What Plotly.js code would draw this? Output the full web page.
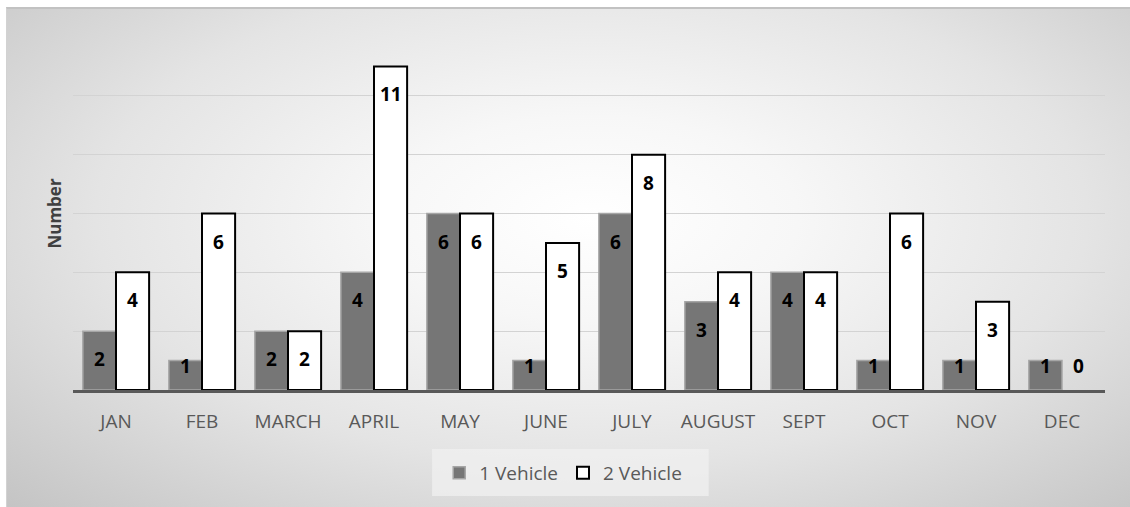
<!DOCTYPE html>
<html>
<head>
<meta charset="utf-8">
<script src="https://cdn.plot.ly/plotly-3.0.1.min.js"></script>
<style>
  html, body { margin:0; padding:0; background:#ffffff; width:1130px; height:507px; overflow:hidden; }
  #bg { position:absolute; left:6px; top:7px; width:1124px; height:498px;
        border-top:2px solid #c2c2c2; border-left:1px solid #d2d2d2;
        background: radial-gradient(ellipse farthest-corner at 52% 42%, #ffffff 0%, #f7f7f7 25%, #e4e4e4 60%, #c4c4c4 100%); }
  #chart { position:absolute; left:0; top:0; width:1130px; height:507px; }
</style>
</head>
<body>
<div id="bg"></div>
<div id="chart"></div>
<script>
const months = ["JAN","FEB","MARCH","APRIL","MAY","JUNE","JULY","AUGUST","SEPT","OCT","NOV","DEC"];
const oneVehicle = [2,1,2,4,6,1,6,3,4,1,1,1];
const twoVehicle = [4,6,2,11,6,5,8,4,4,6,3,0];
const seriesNames = ["1 Vehicle","2 Vehicle"];

const W = 1130, H = 507;
const margin = {l:73, r:25, t:37, b:117, pad:0};
const yMax = 12;
const bargap = 0.23;

const plotW = W - margin.l - margin.r;
const plotH = H - margin.t - margin.b;
const catW = plotW / months.length;
const barW = catW * (1 - bargap) / 2;
const pxPerUnit = plotH / yMax;

const traces = [
  {type:'bar', name:seriesNames[0], x:months, y:oneVehicle,
   marker:{color:'#767676', line:{color:'#a6a6a6', width:oneVehicle.map(v => v === 0 ? 0 : 1.5)}}, hoverinfo:'skip'},
  {type:'bar', name:seriesNames[1], x:months, y:twoVehicle,
   marker:{color:'#ffffff', line:{color:'#000000', width:twoVehicle.map(v => v === 0 ? 0 : 2)}}, hoverinfo:'skip'}
];

const labelFont = {family:'"Open Sans", sans-serif', size:19, color:'#000000'};
const annotations = [];
[oneVehicle, twoVehicle].forEach((vals, si) => {
  const xs = (si === 0 ? -1 : 1) * barW / 2;
  vals.forEach((v, i) => {
    const small = v * pxPerUnit < 52;
    annotations.push({
      x: months[i], y: small ? 0 : v, xref:'x', yref:'y',
      xshift: xs, yshift: small ? 24 : -28,
      text: '<b>' + v + '</b>', showarrow:false,
      font: labelFont, xanchor:'center', yanchor:'middle'
    });
  });
});

const layout = {
  width: W, height: H,
  margin: margin,
  paper_bgcolor: 'rgba(0,0,0,0)',
  plot_bgcolor: 'rgba(0,0,0,0)',
  barmode: 'group',
  bargap: bargap,
  bargroupgap: 0,
  showlegend: true,
  legend: {orientation:'h', x:0.475, xanchor:'center', y:-0.235, yanchor:'middle',
           font:{family:'"Open Sans", sans-serif', size:19, color:'#595959'},
           bgcolor:'rgba(0,0,0,0)', itemwidth:30},
  shapes: [{type:'rect', xref:'paper', yref:'paper', layer:'below',
            x0:0.348, x1:0.616, y0:-0.167, y1:-0.300,
            fillcolor:'rgba(240,240,240,0.75)', line:{width:0}}],
  xaxis: {
    type:'category', categoryarray: months,
    showline:true, linecolor:'#595959', linewidth:3,
    ticks:'', showgrid:false, zeroline:false,
    tickfont:{family:'"Open Sans", sans-serif', size:19, color:'#595959'},
    ticklabelstandoff: 12,
    fixedrange:true
  },
  yaxis: {
    range:[0, yMax], dtick:2, showticklabels:false, ticks:'',
    showgrid:true, gridcolor:'#d3d3d3', gridwidth:1,
    zeroline:false, showline:false,
    title:{text:'Number', standoff:6,
           font:{family:'"Open Sans", sans-serif', size:17, color:'#404040', weight:'bold'}},
    automargin:false,
    fixedrange:true
  },
  annotations: annotations
};

Plotly.newPlot('chart', traces, layout, {displayModeBar:false, staticPlot:true});
</script>
</body>
</html>
